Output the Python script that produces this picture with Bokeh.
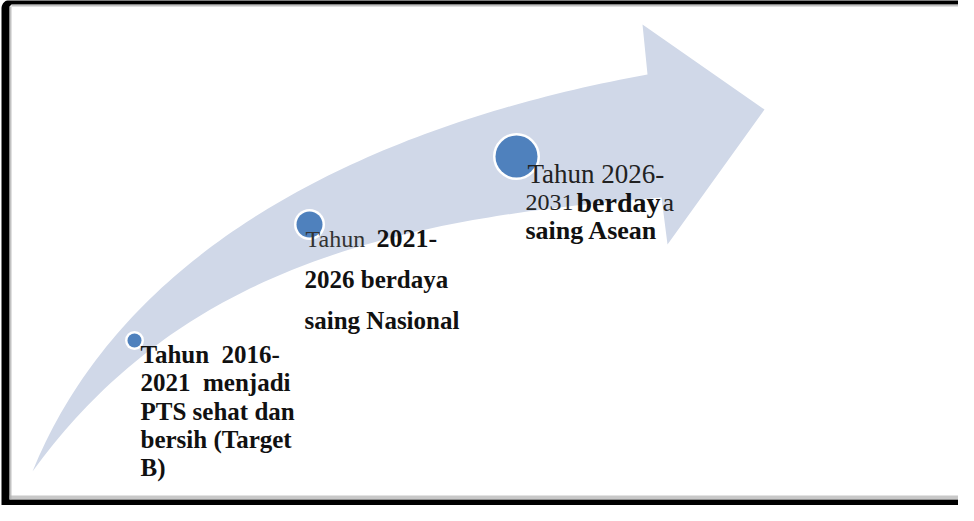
import numpy as np
from bokeh.plotting import figure
from bokeh.models import Range1d
from bokeh.core.properties import value
from bokeh.embed import file_html
from bokeh.resources import INLINE

# ---- content (milestones of the roadmap) ----
periods = ["2016-2021", "2021-2026", "2026-2031"]
goals = ["menjadi PTS sehat dan bersih (Target B)",
         "berdaya saing Nasional",
         "berdaya saing Asean"]
stage = [1, 2, 3]  # milestone order, circles grow with it

lines_1 = ["Tahun\u00a0 2016-", "2021\u00a0 menjadi", "PTS sehat dan", "bersih (Target", "B)"]
lines_2 = ["2026 berdaya", "saing Nasional"]
lines_3 = ["saing Asean"]

# ---- layout (pixel space of the picture) ----
W, H = 958, 505
p = figure(width=W, height=H, x_range=Range1d(8, 8 + W), y_range=Range1d(8 + H, 8),
           output_backend="svg", toolbar_location=None, min_border=0,
           x_axis_type=None, y_axis_type=None)
p.grid.visible = False
p.outline_line_color = None
p.background_fill_color = "white"
p.border_fill_color = "white"

# frame
r = 9
ang = np.linspace(np.pi, 1.5 * np.pi, 20)
cx, cy = 9 + r, 7 + r
arc_x = list(cx + r * np.cos(ang))
arc_y = list(cy + r * np.sin(ang))
frame_x = [9] + arc_x + [966, 966, 19, 17, 17, 966, 966, 9]
frame_y = [513] + arc_y + [7, 12, 12, 14, 507, 507, 513, 513]
p.patch(frame_x, frame_y, fill_color="black", line_color=None)
p.quad(left=19, right=966, top=12, bottom=14, fill_color="#9a9a9a", line_color=None, fill_alpha=0.6)
p.quad(left=17, right=19, top=14, bottom=507, fill_color="#9a9a9a", line_color=None, fill_alpha=0.6)
p.quad(left=17, right=966, top=503, bottom=507, fill_color="#b0b0b0", line_color=None, fill_alpha=0.7)


def bez(p0, p1, p2, p3, n=90):
    t = np.linspace(0, 1, n)[:, None]
    p0, p1, p2, p3 = map(np.array, (p0, p1, p2, p3))
    return (1 - t) ** 3 * p0 + 3 * (1 - t) ** 2 * t * p1 + 3 * (1 - t) * t ** 2 * p2 + t ** 3 * p3


upper = bez((40, 479), (132, 252), (380, 132), (655, 82))
lower = bez((40, 479), (193, 268), (418, 225), (669, 205))[::-1]
head = np.array([(650, 32), (772, 117), (675, 252)])
arrow = np.vstack([upper, head, lower])
p.patch(arrow[:, 0], arrow[:, 1], fill_color="#D0D8E8", line_color=None)

# milestone circles
cxs = [142, 317, 524]
cys = [348, 232, 164]
sizes = [14, 26, 42]
p.scatter(cxs, cys, size=[s + 5 for s in sizes], marker="circle", fill_color="white", line_color=None)
p.scatter(cxs, cys, size=sizes, marker="circle", fill_color="#4F81BD", line_color=None)

font = value("Liberation Serif")
dy = -7
# text block 1
for i, t in enumerate(lines_1):
    p.text([148], [369 + dy + i * 28.3], text=[t], text_font=font, text_font_size="25px",
           text_font_style="bold", text_color="#111111", text_baseline="alphabetic")
# text block 2
p.text([313], [253 + dy], text=["Tahun"], text_font=font, text_font_size="24px",
       text_color="#333333", text_baseline="alphabetic")
p.text([384], [253 + dy], text=["2021-"], text_font=font, text_font_size="26px",
       text_font_style="bold", text_color="#111111", text_baseline="alphabetic")
for i, t in enumerate(lines_2):
    p.text([312], [294 + dy + i * 41], text=[t], text_font=font, text_font_size="25px",
           text_font_style="bold", text_color="#111111", text_baseline="alphabetic")
# text block 3
p.text([535], [188 + dy], text=["Tahun 2026-"], text_font=font, text_font_size="27px",
       text_color="#222222", text_baseline="alphabetic")
p.text([533], [217 + dy], text=["2031"], text_font=font, text_font_size="24px",
       text_color="#222222", text_baseline="alphabetic")
p.text([584], [217 + dy], text=["berday"], text_font=font, text_font_size="28px",
       text_font_style="bold", text_color="#111111", text_baseline="alphabetic")
p.text([670], [217 + dy], text=["a"], text_font=font, text_font_size="26px",
       text_color="#222222", text_baseline="alphabetic")
for t in lines_3:
    p.text([533], [245 + dy], text=[t], text_font=font, text_font_size="26px",
           text_font_style="bold", text_color="#111111", text_baseline="alphabetic")

open("out.html", "w").write(file_html(p, INLINE))
